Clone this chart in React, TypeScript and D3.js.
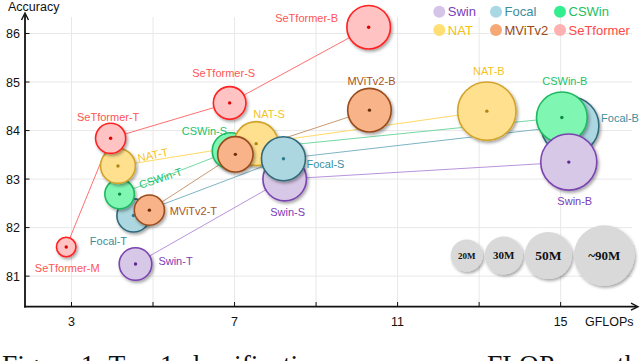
import React, { useEffect, useRef } from "react";
import * as d3 from "d3";

// model data
const models = [
  "Swin-T", "Swin-S", "Swin-B",
  "Focal-T", "Focal-S", "Focal-B",
  "CSWin-T", "CSWin-S", "CSWin-B",
  "NAT-T", "NAT-S", "NAT-B",
  "MViTv2-T", "MViTv2-S", "MViTv2-B",
  "SeTformer-M", "SeTformer-T", "SeTformer-S", "SeTformer-B",
];
const family = [
  "Swin", "Swin", "Swin",
  "Focal", "Focal", "Focal",
  "CSWin", "CSWin", "CSWin",
  "NAT", "NAT", "NAT",
  "MViTv2", "MViTv2", "MViTv2",
  "SeTformer", "SeTformer", "SeTformer", "SeTformer",
];
const gflops = [
  4.57, 8.23, 15.2,
  4.52, 8.2, 15.23,
  4.18, 6.9, 15.03,
  4.14, 7.53, 13.19,
  4.91, 7.02, 10.31,
  2.87, 3.96, 6.88, 10.29,
];
const accuracy = [
  81.25, 83.0, 83.35,
  82.25, 83.42, 84.1,
  82.69, 83.58, 84.27,
  83.27, 83.73, 84.4,
  82.36, 83.51, 84.42,
  81.6, 83.84, 84.57, 86.13,
];
const paramsM = [
  28, 50, 83,
  29, 51, 88,
  23, 35, 68,
  32, 51, 90,
  24, 33, 50,
  10, 24, 28, 50,
];

const families = ["Swin", "Focal", "CSWin", "NAT", "MViTv2", "SeTformer"];
const sizeLegend = [20, 30, 50, 90];
const sizeLegendText = ["20M", "30M", "50M", "~90M"];

const xTicks = [3, 5, 7, 9, 11, 13, 15];
const xTickLabels = [3, 7, 11, 15];
const yTicks = [81, 82, 83, 84, 85, 86];

// styling
const fillC: Record<string, string> = {
  Swin: "#d8c8e7", Focal: "#acd7e0", CSWin: "#80f6b3",
  NAT: "#ffe08f", MViTv2: "#f8b388", SeTformer: "#ffc3c3",
};
const strokeC: Record<string, string> = {
  Swin: "#7a44b0", Focal: "#2f6a7a", CSWin: "#1fb862",
  NAT: "#d2a42c", MViTv2: "#9a4c1c", SeTformer: "#ff2020",
};
const dotC: Record<string, string> = {
  Swin: "#5a2890", Focal: "#2d7a90", CSWin: "#0a8a45",
  NAT: "#b08510", MViTv2: "#6b2f0a", SeTformer: "#e00000",
};
const lineC: Record<string, string> = {
  Swin: "#b894dc", Focal: "#7eb4c4", CSWin: "#74d9a4",
  NAT: "#ffd966", MViTv2: "#c99a74", SeTformer: "#ff7070",
};
const textC: Record<string, string> = {
  Swin: "#7a3cb8", Focal: "#3a8ea0", CSWin: "#22c26a",
  NAT: "#f5c21e", MViTv2: "#a8541c", SeTformer: "#ff5555",
};
const legendFill: Record<string, string> = {
  Swin: "#d4c4e8", Focal: "#a8d8e4", CSWin: "#33ee8f",
  NAT: "#ffdf73", MViTv2: "#f6a876", SeTformer: "#ffb0b0",
};
const legendText: Record<string, string> = {
  Swin: "#7a3cb8", Focal: "#3a8ea0", CSWin: "#1fc060",
  NAT: "#f5c010", MViTv2: "#9a4a15", SeTformer: "#ff4a4a",
};

// label offsets [dx, dy, rotate] from the bubble centre (MViTv2-S has no label)
const labelPos: Record<string, number[]> = {
  "SeTformer-M": [1, 21, 0], "SeTformer-T": [-2.5, -21, 0],
  "SeTformer-S": [-6, -30, 0], "SeTformer-B": [-62, -9, 0],
  "NAT-T": [35, -11, -12], "CSWin-T": [41, -16, -18],
  "MViTv2-T": [44, 1, 0], "Focal-T": [-25, 26, 0], "Swin-T": [40, -3, 0],
  "CSWin-S": [-26, -20, 0], "NAT-S": [13, -30, 0], "Focal-S": [42, 5, 0],
  "Swin-S": [3, 33, 0], "MViTv2-B": [2, -29, 0], "NAT-B": [2, -40, 0],
  "CSWin-B": [3, -36, 0], "Focal-B": [50, -8, 0], "Swin-B": [6, 39, 0],
};

const drawOrder = [
  "Focal-T", "CSWin-T", "NAT-T", "SeTformer-T", "MViTv2-T", "Swin-T", "SeTformer-M",
  "CSWin-S", "NAT-S", "MViTv2-S", "Swin-S", "Focal-S", "SeTformer-S",
  "Focal-B", "CSWin-B", "Swin-B", "NAT-B", "MViTv2-B", "SeTformer-B",
];

const sans = "'Liberation Sans', Arial, sans-serif";
const serif = "'Liberation Serif', 'Times New Roman', serif";

export default function App() {
  const ref = useRef<SVGSVGElement>(null);

  useEffect(() => {
    const svg = d3.select(ref.current);
    svg.selectAll("*").remove();

    const x = d3.scaleLinear().domain([1.859, 16.8]).range([25, 634]);
    const y = d3.scaleLinear().domain([80.37, 86.34]).range([306.7, 17]);
    const r = d3.scaleSqrt().domain([0, 90]).range([0, 29.2]);
    const rLeg = d3.scalePow().exponent(0.425).domain([0, 90]).range([0, 30.3]);

    const defs = svg.append("defs");
    const f = defs.append("filter").attr("id", "shadow")
      .attr("x", "-30%").attr("y", "-30%").attr("width", "170%").attr("height", "170%");
    f.append("feDropShadow").attr("dx", 1.5).attr("dy", 2).attr("stdDeviation", 1.4)
      .attr("flood-color", "#000").attr("flood-opacity", 0.35);

    const pts = models.map((m, i) => ({
      name: m, fam: family[i], cx: x(gflops[i]), cy: y(accuracy[i]), r: r(paramsM[i]),
    }));

    // grid
    const grid = svg.append("g").attr("stroke", "#e8e8e8").attr("stroke-width", 1);
    yTicks.forEach(t => {
      grid.append("line").attr("x1", 25).attr("x2", 632).attr("y1", y(t)).attr("y2", y(t));
    });
    xTicks.forEach(t => {
      grid.append("line").attr("x1", x(t)).attr("x2", x(t)).attr("y1", 17).attr("y2", 306.7);
    });

    // family lines
    families.forEach(fm => {
      const ps = pts.filter(p => p.fam === fm);
      svg.append("path").datum(ps)
        .attr("fill", "none").attr("stroke", lineC[fm]).attr("stroke-width", 1)
        .attr("d", d3.line<any>().x(d => d.cx).y(d => d.cy));
    });

    // size legend bubbles
    let cxL = 466.7;
    sizeLegend.forEach((s, i) => {
      const rr = rLeg(s);
      if (i > 0) cxL += rLeg(sizeLegend[i - 1]) + rr + 2;
      svg.append("circle").attr("cx", cxL).attr("cy", 255.5).attr("r", rr)
        .attr("fill", "#d9d9d9").attr("filter", "url(#shadow)");
      svg.append("text").attr("x", cxL).attr("y", 255.5).attr("dy", "0.35em")
        .attr("text-anchor", "middle").attr("font-family", serif).attr("font-weight", "bold")
        .attr("font-size", [9, 11, 13.5, 13][i]).attr("fill", "#111").text(sizeLegendText[i]);
    });

    // bubbles
    drawOrder.forEach(n => {
      const p = pts.find(q => q.name === n);
      if (!p) return;
      svg.append("circle").attr("cx", p.cx).attr("cy", p.cy).attr("r", p.r)
        .attr("fill", fillC[p.fam]).attr("stroke", strokeC[p.fam]).attr("stroke-width", 1.6)
        .attr("filter", "url(#shadow)");
      svg.append("circle").attr("cx", p.cx).attr("cy", p.cy).attr("r", 1.7)
        .attr("fill", dotC[p.fam]);
    });

    // labels
    pts.forEach(p => {
      const lp = labelPos[p.name];
      if (!lp) return;
      const [dx, dy, rot] = lp;
      const lx = p.cx + dx, ly = p.cy + dy;
      svg.append("text").attr("x", lx).attr("y", ly).attr("dy", "0.35em")
        .attr("text-anchor", "middle").attr("font-family", sans).attr("font-size", 11)
        .attr("fill", textC[p.fam])
        .attr("transform", rot ? `rotate(${rot},${lx},${ly})` : null)
        .text(p.name);
    });

    // family legend
    families.forEach((fm, i) => {
      const col = i % 3, row = Math.floor(i / 3);
      const cx = [439.3, 496, 560][col];
      const cy = [11.7, 30][row];
      svg.append("circle").attr("cx", cx).attr("cy", cy).attr("r", 6).attr("fill", legendFill[fm]);
      svg.append("text").attr("x", cx + 8.5).attr("y", cy).attr("dy", "0.36em")
        .attr("font-family", sans).attr("font-size", 13).attr("fill", legendText[fm])
        .text(fm);
    });

    // axes
    const ax = svg.append("g").attr("stroke", "#111").attr("stroke-width", 1.8).attr("fill", "none");
    ax.append("line").attr("x1", 25).attr("x2", 25).attr("y1", 307.6).attr("y2", 15);
    ax.append("line").attr("x1", 24.1).attr("x2", 636).attr("y1", 306.7).attr("y2", 306.7);
    ax.append("path").attr("d", "M21.5,20 L25,13 L28.5,20").attr("stroke-width", 1.4);
    ax.append("path").attr("d", "M631,303.2 L638,306.7 L631,310.2").attr("stroke-width", 1.4);
    yTicks.forEach(t => {
      ax.append("line").attr("x1", 25).attr("x2", 29.5).attr("y1", y(t)).attr("y2", y(t)).attr("stroke-width", 1);
    });
    xTicks.forEach(t => {
      ax.append("line").attr("x1", x(t)).attr("x2", x(t)).attr("y1", 306.7).attr("y2", 302).attr("stroke-width", 1);
    });

    yTicks.forEach(t => {
      svg.append("text").attr("x", 20).attr("y", y(t)).attr("dy", "0.36em")
        .attr("text-anchor", "end").attr("font-family", sans).attr("font-size", 12.5)
        .attr("fill", "#111").text(t);
    });
    xTickLabels.forEach(t => {
      svg.append("text").attr("x", x(t)).attr("y", 326)
        .attr("text-anchor", "middle").attr("font-family", sans).attr("font-size", 12.5)
        .attr("fill", "#111").text(t);
    });
    svg.append("text").attr("x", 585).attr("y", 326).attr("font-family", sans)
      .attr("font-size", 12.5).attr("fill", "#111").text("GFLOPs");
    svg.append("text").attr("x", 8).attr("y", 11).attr("font-family", sans)
      .attr("font-size", 12.5).attr("fill", "#111").text("Accuracy");

    // caption, cut off by the bottom edge
    const cap = svg.append("g").attr("font-family", serif).attr("font-size", 27.5).attr("fill", "#111");
    cap.append("text").attr("x", 2).attr("y", 373.5).text("Figure 1: Top-1 classification");
    cap.append("text").attr("x", 487).attr("y", 373.5).text("FLOPs");
    cap.append("text").attr("x", 617).attr("y", 373.5).text("th");
  }, []);

  return (
    <svg ref={ref} width={640} height={361}
      style={{ position: "absolute", left: 0, top: 0, background: "#fff" }} />
  );
}
